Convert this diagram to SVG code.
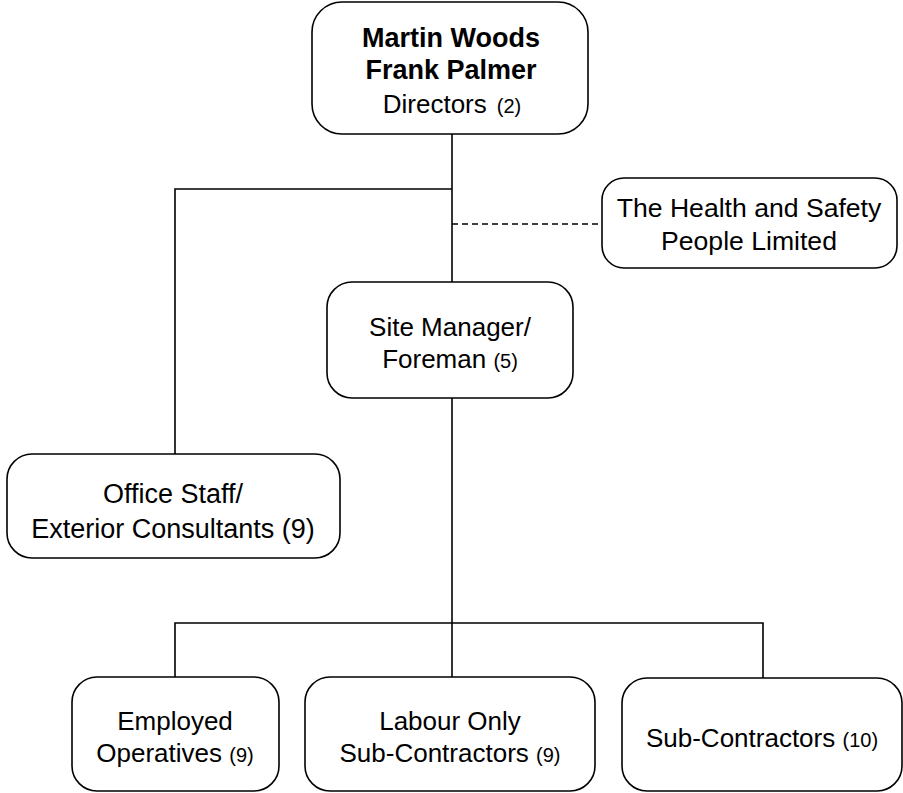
<svg xmlns="http://www.w3.org/2000/svg" width="903" height="793" viewBox="0 0 903 793">
<style>
.box{fill:#fff;stroke:#000;stroke-width:1.6}
.ln{fill:none;stroke:#000;stroke-width:1.6}
.dash{fill:none;stroke:#000;stroke-width:1.4;stroke-dasharray:6 4}
text{font-family:"Liberation Sans",Arial,sans-serif;font-size:26px;fill:#000;text-anchor:middle}
.b{font-weight:bold;font-size:27px}
.s{font-size:20px}
.l{font-size:27px}
.m{font-size:26.6px}
</style>
<rect width="903" height="793" fill="#fff"/>
<g id="connectors">
<path class="ln" d="M452,134 V677"/>
<path class="ln" d="M452,189 H175 V454"/>
<path class="dash" d="M452,224 H602"/>
<path class="ln" d="M175,677 V623 H763 V678"/>
</g>
<g id="directors">
<rect class="box" x="312" y="2" width="276" height="132" rx="30"/>
<text class="b" x="451" y="47">Martin Woods</text>
<text class="b" x="451" y="79">Frank Palmer</text>
<text x="452" y="113">Directors<tspan class="s" dx="10">(2)</tspan></text>
</g>
<g id="hs">
<rect class="box" x="602" y="178" width="295" height="90" rx="22"/>
<text class="m" x="749" y="217">The Health and Safety</text>
<text class="m" x="749" y="250">People Limited</text>
</g>
<g id="site">
<rect class="box" x="327" y="282" width="246" height="116" rx="25"/>
<text x="450" y="336">Site Manager/</text>
<text x="450" y="368">Foreman <tspan class="s">(5)</tspan></text>
</g>
<g id="office">
<rect class="box" x="7" y="454" width="333" height="104" rx="25"/>
<text class="l" x="173" y="503">Office Staff/</text>
<text class="l" x="173" y="538">Exterior Consultants (9)</text>
</g>
<g id="employed">
<rect class="box" x="72" y="677" width="207" height="114" rx="25"/>
<text x="175" y="730">Employed</text>
<text x="175" y="762">Operatives <tspan class="s">(9)</tspan></text>
</g>
<g id="labour">
<rect class="box" x="305" y="677" width="290" height="114" rx="25"/>
<text x="450" y="730">Labour Only</text>
<text x="450" y="762">Sub-Contractors <tspan class="s">(9)</tspan></text>
</g>
<g id="subcon">
<rect class="box" x="622" y="678" width="280" height="113" rx="25"/>
<text x="762" y="747">Sub-Contractors <tspan class="s">(10)</tspan></text>
</g>
</svg>
